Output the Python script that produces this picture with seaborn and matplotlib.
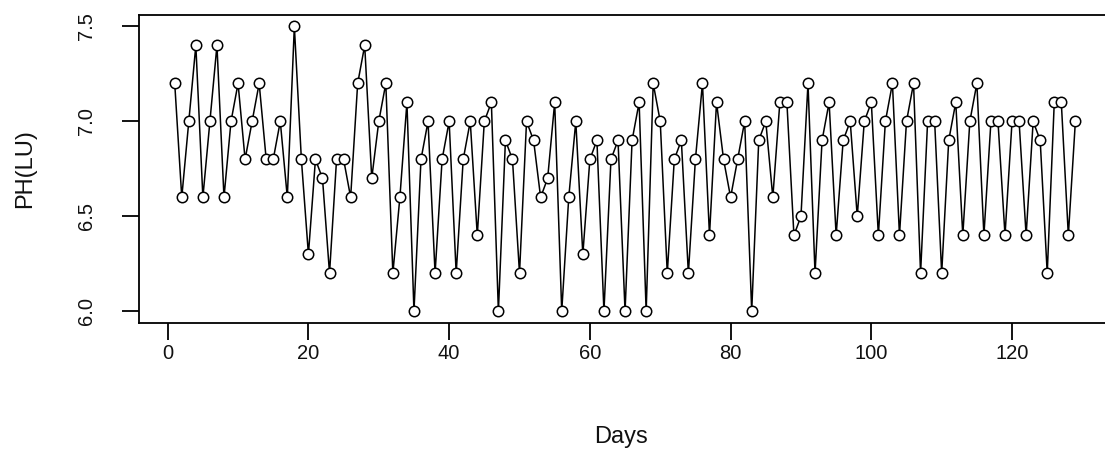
import matplotlib
matplotlib.use("Agg")
import matplotlib.pyplot as plt
import seaborn as sns
import pandas as pd

days = list(range(1, 130))
ph_lu = [7.2, 6.6, 7.0, 7.4, 6.6, 7.0, 7.4, 6.6, 7.0, 7.2,
         6.8, 7.0, 7.2, 6.8, 6.8, 7.0, 6.6, 7.5, 6.8, 6.3,
         6.8, 6.7, 6.2, 6.8, 6.8, 6.6, 7.2, 7.4, 6.7, 7.0,
         7.2, 6.2, 6.6, 7.1, 6.0, 6.8, 7.0, 6.2, 6.8, 7.0,
         6.2, 6.8, 7.0, 6.4, 7.0, 7.1, 6.0, 6.9, 6.8, 6.2,
         7.0, 6.9, 6.6, 6.7, 7.1, 6.0, 6.6, 7.0, 6.3, 6.8,
         6.9, 6.0, 6.8, 6.9, 6.0, 6.9, 7.1, 6.0, 7.2, 7.0,
         6.2, 6.8, 6.9, 6.2, 6.8, 7.2, 6.4, 7.1, 6.8, 6.6,
         6.8, 7.0, 6.0, 6.9, 7.0, 6.6, 7.1, 7.1, 6.4, 6.5,
         7.2, 6.2, 6.9, 7.1, 6.4, 6.9, 7.0, 6.5, 7.0, 7.1,
         6.4, 7.0, 7.2, 6.4, 7.0, 7.2, 6.2, 7.0, 7.0, 6.2,
         6.9, 7.1, 6.4, 7.0, 7.2, 6.4, 7.0, 7.0, 6.4, 7.0,
         7.0, 6.4, 7.0, 6.9, 6.2, 7.1, 7.1, 6.4, 7.0]
x_ticks = [0, 20, 40, 60, 80, 100, 120]
y_ticks = [6.0, 6.5, 7.0, 7.5]
y_tick_labels = ["6.0", "6.5", "7.0", "7.5"]

df = pd.DataFrame({"Days": days, "PH(LU)": ph_lu})

sns.set_theme(style="white")
plt.rcParams["font.family"] = ["Liberation Sans", "DejaVu Sans"]

fig = plt.figure(figsize=(11.05, 4.54), dpi=100)
ax = fig.add_axes([138.7 / 1105, 1 - 322.7 / 454, (1111.4 - 138.7) / 1105, (322.7 - 15) / 454])

sns.lineplot(data=df, x="Days", y="PH(LU)", ax=ax, color="black", linewidth=1.1,
             marker="o", markersize=7.5, markerfacecolor="white",
             markeredgecolor="black", markeredgewidth=1.1)

ax.set_xlim(-4.12, 134.12)
ax.set_ylim(5.94, 7.56)
ax.set_xticks(x_ticks)
ax.set_xticklabels([str(t) for t in x_ticks])
ax.set_yticks(y_ticks)
ax.set_yticklabels(y_tick_labels, rotation=90, va="center")

for s in ax.spines.values():
    s.set_color("black")
    s.set_linewidth(1.3)
ax.spines["right"].set_visible(False)

ax.tick_params(axis="both", direction="out", length=12.5, width=1.3, color="black",
               labelsize=14.5, labelcolor="#111111")
ax.tick_params(axis="x", pad=3, bottom=True)
ax.tick_params(axis="y", pad=18, left=True)

ax.set_xlabel("Days", fontsize=17, color="#111111")
ax.set_ylabel("PH(LU)", fontsize=17, color="#111111")
ax.xaxis.set_label_coords((621 - 138.7) / (1111.4 - 138.7), -(437 - 322.7) / (322.7 - 15))
ax.xaxis.label.set_va("center")
ax.yaxis.set_label_coords(-(138.7 - 25) / (1111.4 - 138.7), 0.5)
ax.yaxis.label.set_va("center")

fig.savefig("out.png", dpi=100)
